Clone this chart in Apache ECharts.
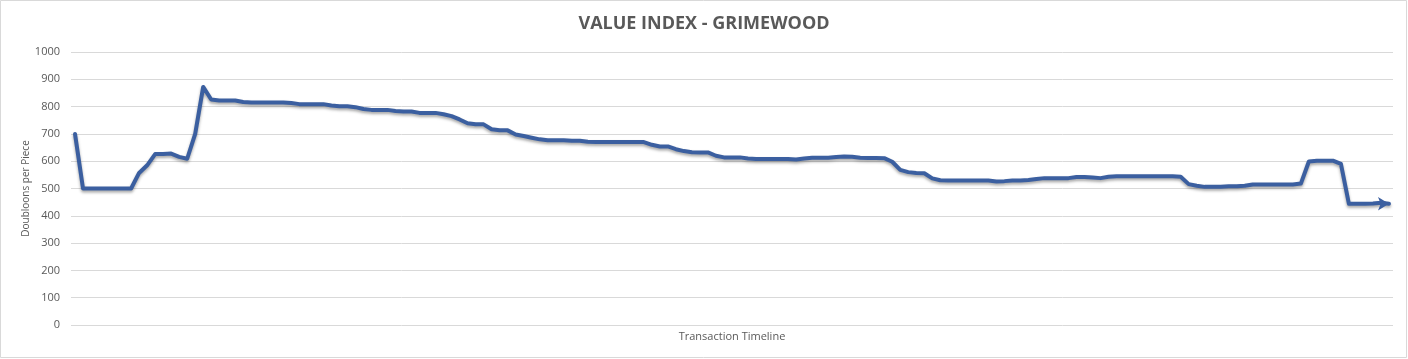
<!DOCTYPE html>
<html>
<head>
<meta charset="utf-8">
<script src="https://cdn.jsdelivr.net/npm/echarts@6/dist/echarts.min.js"></script>
<style>
html,body{margin:0;padding:0;background:#fff;}
#chart{width:1408px;height:359px;}
</style>
</head>
<body>
<div id="chart"></div>
<script>
const titleText = "VALUE INDEX - GRIMEWOOD";
const yAxisName = "Doubloons per Piece";
const xAxisName = "Transaction Timeline";
const yTicks = [0, 100, 200, 300, 400, 500, 600, 700, 800, 900, 1000];

const values = [
  700, 500, 500, 500, 500, 500, 500, 500, 557, 585,
  626, 626, 628, 616, 609, 700, 872, 826, 822, 822,
  822, 817, 815, 815, 815, 815, 815, 813, 809, 809,
  809, 809, 804, 801, 801, 798, 791, 788, 788, 788,
  784, 782, 782, 777, 777, 777, 772, 765, 753, 739,
  735, 735, 717, 713, 713, 698, 692, 686, 680, 677,
  677, 677, 675, 675, 671, 670, 670, 670, 670, 670,
  670, 670, 660, 654, 654, 644, 637, 633, 632, 632,
  620, 614, 614, 614, 610, 608, 608, 608, 608, 608,
  606, 610, 613, 613, 613, 615, 617, 616, 613, 612,
  612, 611, 598, 568, 560, 557, 556, 537, 530, 529,
  529, 529, 529, 529, 529, 526, 527, 529, 529, 531,
  535, 538, 538, 538, 538, 542, 542, 540, 538, 543,
  545, 545, 545, 545, 545, 545, 545, 545, 543, 516,
  510, 506, 506, 506, 508, 508, 510, 515, 515, 515,
  515, 515, 515, 518, 599, 602, 602, 602, 590, 444,
  444, 444, 445, 448, 444
];
const categories = values.map((_, i) => String(i + 1));

const seriesData = values.map((v, i) => i === values.length - 1
  ? { value: v, symbol: 'arrow', symbolSize: [10, 11], symbolRotate: -90 }
  : v);

const chart = echarts.init(document.getElementById('chart'), null, { renderer: 'canvas' });
chart.setOption({
  animation: false,
  backgroundColor: '#ffffff',
  title: {
    text: titleText,
    left: 'center',
    top: 10,
    textStyle: { fontFamily: 'Open Sans', fontWeight: 'bold', fontSize: 18, color: '#595959' }
  },
  graphic: [{
    type: 'rect',
    shape: { x: 0.5, y: 0.5, width: 1406, height: 357 },
    style: { fill: 'none', stroke: '#d9d9d9', lineWidth: 1 },
    silent: true
  }],
  grid: { left: 71, right: 15, top: 52, bottom: 34, containLabel: false },
  xAxis: {
    type: 'category',
    data: categories,
    boundaryGap: true,
    axisLine: { show: false },
    axisTick: { show: false },
    axisLabel: { show: false },
    name: xAxisName,
    nameLocation: 'middle',
    nameGap: 6,
    nameTextStyle: { fontFamily: 'Open Sans', fontSize: 11, color: '#595959' }
  },
  yAxis: {
    type: 'value',
    min: yTicks[0],
    max: yTicks[yTicks.length - 1],
    interval: 100,
    axisLine: { show: false },
    axisTick: { show: false },
    axisLabel: {
      fontFamily: 'Open Sans', fontSize: 11, color: '#595959', margin: 11,
      formatter: v => String(v)
    },
    splitLine: { lineStyle: { color: '#d9d9d9', width: 1 } },
    name: yAxisName,
    nameLocation: 'middle',
    nameGap: 40,
    nameMoveOverlap: false,
    nameRotate: 90,
    nameTextStyle: { fontFamily: 'Open Sans', fontSize: 10, color: '#595959' }
  },
  series: [{
    type: 'line',
    data: seriesData,
    symbol: 'none',
    showSymbol: true,
    showAllSymbol: true,
    itemStyle: { color: '#3b5fa0' },
    lineStyle: {
      color: '#3b5fa0', width: 4, join: 'round', cap: 'round',
      shadowColor: 'rgba(0,0,0,0.35)', shadowBlur: 3, shadowOffsetY: 2
    }
  }]
});
</script>
</body>
</html>
